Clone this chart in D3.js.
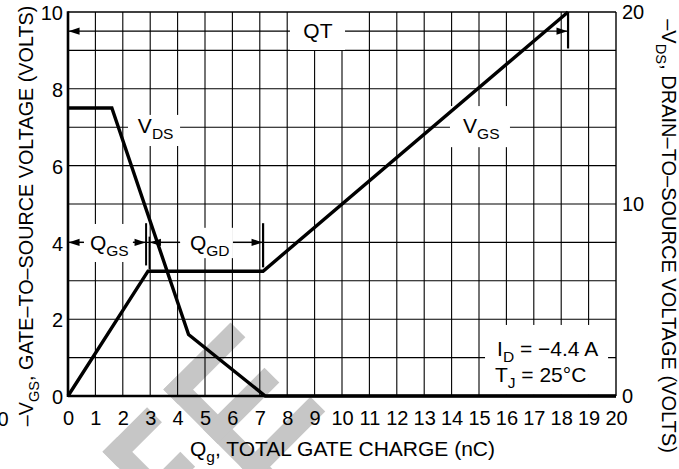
<!DOCTYPE html>
<html><head><meta charset="utf-8">
<script src="https://cdn.jsdelivr.net/npm/d3@7"></script>
<style>
html,body{margin:0;padding:0;background:#fff;overflow:hidden}
svg{display:block}
text{font-family:"Liberation Sans",Arial,Helvetica,sans-serif;fill:#000}
</style>
</head><body>
<svg id="c" width="679" height="469"></svg>
<script>
// ---- data ----
const xTickLabels = [0,1,2,3,4,5,6,7,8,9,10,11,12,13,14,15,16,17,18,19,20];
const yLeftTicks = [0,2,4,6,8,10];
const yRightTicks = [0,10,20];
const vgsCharge = [0, 2.92, 7.12, 18.25];   // nC
const vgsVolts  = [0, 3.25, 3.25, 10];      // left axis (V)
const vdsCharge = [0, 1.6, 4.4, 7.2, 20];   // nC
const vdsVolts  = [15, 15, 3.2, 0, 0];      // right axis (V)
const qgsEnd = 2.85, qgdStart = 2.97, qgdEnd = 7.12, qtEnd = 18.25;

// watermark bars in a -45deg rotated frame [u0,u1,v0,v1]
const watermarkBars = [
  [-247,-226,392,540],[-247,-184,392,413],[-247,-192,447,468],
  [-160,-139,391,540],[-160,-65,391,412],[-160,-73,447,468],[-160,-61,500,521]
];

const svg = d3.select("#c");
const X0=68, X1=616, Y0=12, Y1=396;
const x = d3.scaleLinear().domain([0,20]).range([X0,X1]);
const y = d3.scaleLinear().domain([0,10]).range([Y1,Y0]);
const yR = d3.scaleLinear().domain([0,20]).range([Y1,Y0]);

// watermark
svg.append("g").attr("transform","rotate(-45)")
  .selectAll("rect").data(watermarkBars).join("rect")
  .attr("x",d=>d[0]).attr("width",d=>d[1]-d[0])
  .attr("y",d=>d[2]).attr("height",d=>d[3]-d[2])
  .attr("fill","#c6c6c6");

// grid
const grid = svg.append("g").attr("stroke","#000").attr("stroke-width",1.1);
grid.selectAll("line.v").data(d3.range(1,20)).join("line")
  .attr("x1",d=>x(d)).attr("x2",d=>x(d)).attr("y1",Y0).attr("y2",Y1);
grid.selectAll("line.h").data(d3.range(1,10)).join("line").attr("class","h")
  .attr("x1",X0).attr("x2",X1).attr("y1",d=>y(d)).attr("y2",d=>y(d));

// white label boxes [x0,x1,yTop,yBottom] in data units
const boxes = [
  [8.10,10.11,10,9.01],   // QT
  [2.19,4.09,7.32,6.51],  // VDS
  [13.94,16.13,7.55,6.48],// VGS
  [0.58,2.37,4.48,3.49],  // QGS
  [4.09,6.02,4.38,3.59],  // QGD
  [15.22,19.71,1.85,0.03] // conditions
];
svg.append("g").selectAll("rect").data(boxes).join("rect")
  .attr("x",d=>x(d[0])).attr("width",d=>x(d[1])-x(d[0]))
  .attr("y",d=>y(d[2])).attr("height",d=>y(d[3])-y(d[2]))
  .attr("fill","#fff");

// frame
const fr = svg.append("g").attr("stroke","#000");
fr.append("line").attr("x1",X0).attr("x2",X1).attr("y1",Y0).attr("y2",Y0).attr("stroke-width",1.6);
fr.append("line").attr("x1",X1).attr("x2",X1).attr("y1",Y0).attr("y2",Y1).attr("stroke-width",1.4);
fr.append("line").attr("x1",X0).attr("x2",X0).attr("y1",Y0-0.8).attr("y2",Y1+1).attr("stroke-width",2.6);
fr.append("line").attr("x1",X0).attr("x2",X1).attr("y1",Y1).attr("y2",Y1).attr("stroke-width",2.6);

// curves
const lineG = d3.line().x(d=>x(d[0])).y(d=>y(d[1]));
const lineR = d3.line().x(d=>x(d[0])).y(d=>yR(d[1]));
svg.append("path").datum(d3.zip(vgsCharge,vgsVolts)).attr("d",lineG)
  .attr("fill","none").attr("stroke","#000").attr("stroke-width",3.4).attr("stroke-linejoin","miter");
svg.append("path").datum(d3.zip(vdsCharge,vdsVolts)).attr("d",lineR)
  .attr("fill","none").attr("stroke","#000").attr("stroke-width",3.4).attr("stroke-linejoin","miter");

// arrows
const ann = svg.append("g").attr("stroke","#000");
function seg(a,b,v){ ann.append("line").attr("x1",x(a)).attr("x2",x(b)).attr("y1",y(v)).attr("y2",y(v)).attr("stroke-width",1.3); }
function head(at,v,dir){ // dir -1 left, +1 right; tip at 'at'
  const tx=x(at), ty=y(v), L=11, w=3.6;
  svg.append("path").attr("d",`M${tx},${ty}L${tx-dir*L},${ty-w}L${tx-dir*L},${ty+w}Z`).attr("fill","#000");
}
function vtick(at,v0,v1,sw){ ann.append("line").attr("x1",x(at)).attr("x2",x(at)).attr("y1",y(v0)).attr("y2",y(v1)).attr("stroke-width",sw||2); }
// QT
seg(0,8.10,9.5); seg(10.11,qtEnd,9.5); head(0.02,9.5,-1); head(qtEnd-0.02,9.5,1); vtick(qtEnd,10,9.05,2.2);
// QGS
seg(0,0.58,4); seg(2.37,qgsEnd,4); head(0.02,4,-1); head(qgsEnd-0.02,4,1);
// QGD
seg(qgdStart,4.09,4); seg(6.02,qgdEnd,4); head(qgdStart+0.02,4,-1); head(qgdEnd-0.02,4,1);
vtick(qgsEnd,4.5,3.4,2); vtick(qgdStart,4.15,3.3,1.6); vtick(qgdEnd,4.5,3.35,2.2);

// text helper: parts [[str, isSub]]
function label(g, parts, px, py, size, anchor){
  const t = g.append("text").attr("x",px).attr("y",py).attr("font-size",size).attr("text-anchor",anchor||"start");
  let shifted=false;
  parts.forEach(p=>{
    const s = t.append("tspan").text(p[0]);
    if(p[1]){ s.attr("font-size",size*0.74).attr("dy",size*0.28); shifted=true; }
    else if(shifted){ s.attr("dy",-size*0.28); shifted=false; }
  });
  return t;
}
const tg = svg.append("g");
label(tg,[["QT",0]],x(9.12),38,21,"middle");
label(tg,[["V",0],["DS",1]],x(2.55),133,21);
label(tg,[["V",0],["GS",1]],x(14.42),133,21);
label(tg,[["Q",0],["GS",1]],x(0.8),250,21);
label(tg,[["Q",0],["GD",1]],x(4.45),250,21);
label(tg,[["I",0],["D",1],[" = \u22124.4 A",0]],x(15.66),356,21);
label(tg,[["T",0],["J",1],[" = 25\u00B0C",0]],x(15.58),382,21);

// axes
const TF = 20;
const ax = svg.append("g").attr("transform",`translate(0,${Y1})`)
  .call(d3.axisBottom(x).tickValues(xTickLabels).tickSize(0).tickPadding(15).tickFormat(d3.format("d")));
const ay = svg.append("g").attr("transform",`translate(${X0},0)`)
  .call(d3.axisLeft(y).tickValues(yLeftTicks).tickSize(0).tickPadding(5).tickFormat(d3.format("d")));
const ayr = svg.append("g").attr("transform",`translate(${X1},0)`)
  .call(d3.axisRight(yR).tickValues(yRightTicks).tickSize(0).tickPadding(6).tickFormat(d3.format("d")));
[ax,ay,ayr].forEach(a=>{
  a.select(".domain").remove();
  a.selectAll("text").attr("font-size",TF).attr("font-family",'"Liberation Sans",Arial,sans-serif').attr("fill","#000");
});
ay.selectAll("text").attr("dy","0.38em");
ayr.selectAll("text").attr("dy","0.34em");

// stray cropped label at far left
tg.append("text").attr("x",3).attr("y",426).attr("font-size",TF).attr("text-anchor","middle").text("0");

// titles
const lt = svg.append("g").attr("transform","translate(33,216) rotate(-90)");
label(lt,[["\u2013V",0],["GS",1],[", GATE\u2013TO\u2013SOURCE VOLTAGE (VOLTS)",0]],0,0,19.8,"middle");
const rt = svg.append("g").attr("transform","translate(662,236) rotate(90)");
label(rt,[["\u2013V",0],["DS",1],[", DRAIN\u2013TO\u2013SOURCE VOLTAGE (VOLTS)",0]],0,0,20,"middle");
label(svg,[["Q",0],["g",1],[", TOTAL GATE CHARGE (nC)",0]],342.5,456,21,"middle");
</script>
</body></html>
